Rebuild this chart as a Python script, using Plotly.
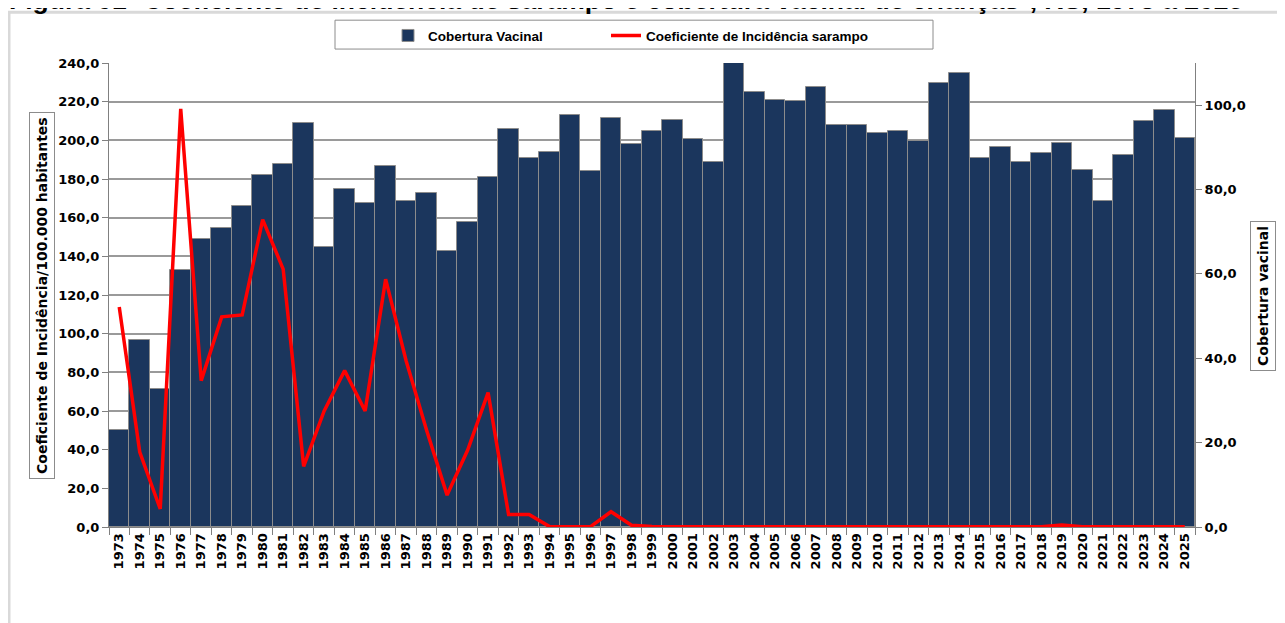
import plotly.graph_objects as go

# ==========================================
# dados
# ==========================================
anos = [str(a) for a in range(1973, 2026)]

cobertura = [22.9, 44.4, 32.7, 60.9, 68.2, 71.0, 76.0, 83.4, 86.1, 95.7,
             66.4, 80.1, 76.9, 85.6, 77.4, 79.2, 65.5, 72.4, 82.9, 94.3,
             87.5, 88.9, 97.6, 84.3, 96.9, 90.7, 93.9, 96.6, 92.1, 86.6,
             115.0, 103.1, 101.2, 101.0, 104.4, 95.3, 95.3, 93.4, 93.9, 91.6,
             105.3, 107.6, 87.5, 90.2, 86.6, 88.6, 91.1, 84.7, 77.4, 88.2,
             96.2, 98.9, 92.3]

incidencia = [113.8, 38.8, 9.3, 216.3, 75.7, 108.7, 109.7, 159.0, 133.4, 31.4,
              60.0, 80.9, 60.0, 128.2, 86.0, 50.0, 16.5, 39.7, 69.5, 6.5,
              6.5, 0.2, 0.1, 0.2, 7.9, 0.9, 0.2, 0.1, 0.1, 0.1,
              0.1, 0.1, 0.1, 0.1, 0.1, 0.1, 0.1, 0.1, 0.1, 0.1,
              0.1, 0.1, 0.1, 0.1, 0.1, 0.1, 1.0, 0.1, 0.1, 0.1,
              0.1, 0.1, 0.1]

ticks_esq = list(range(0, 241, 20))
ticks_dir = list(range(0, 101, 20))

# ==========================================
# geometria (px da página; o body do html tem margem de 8px)
# ==========================================
OFF = 8
W, H = 1285 - OFF, 623 - OFF
L, R, T, B = 109 - OFF, 1195 - OFF, 61 - OFF, 527 - OFF
pw, ph = R - L, B - T


def px(x):
    return (x - OFF - L) / pw


def py(y):
    return (B - (y - OFF)) / ph


NAVY = '#1B365D'
GRID = '#9A9A9A'
FONTE = 'DejaVu Sans'
FONTE_LEG = dict(family='Liberation Sans Narrow, Liberation Sans', size=13.5,
                 color='black', weight='bold')

fig = go.Figure()

fig.add_trace(go.Bar(
    x=anos, y=cobertura, name='Cobertura Vacinal', yaxis='y', legend='legend',
    marker=dict(color=NAVY, line=dict(color='#8C8C8C', width=1)),
))

fig.add_trace(go.Scatter(
    x=anos, y=incidencia, name='Coeficiente de Incidência sarampo', yaxis='y2',
    legend='legend2', mode='lines', line=dict(color='#FF0000', width=3.5),
))

fig.update_layout(
    width=W, height=H,
    margin=dict(l=L, r=W - R, t=T, b=H - B),
    paper_bgcolor='white', plot_bgcolor='white',
    separators=',.',
    bargap=0,
    showlegend=True,
    legend=dict(
        x=px(388), y=py(18), xanchor='left', yanchor='top',
        bgcolor='rgba(0,0,0,0)', borderwidth=0, font=FONTE_LEG,
    ),
    legend2=dict(
        x=px(606), y=py(18), xanchor='left', yanchor='top',
        bgcolor='rgba(0,0,0,0)', borderwidth=0, font=FONTE_LEG,
    ),
    xaxis=dict(
        type='category', tickson='boundaries', ticks='outside', ticklen=7,
        tickcolor='#808080', showline=True, linecolor='#808080', linewidth=1,
        tickangle=-90, showgrid=False,
        tickfont=dict(family=FONTE, size=13, color='black', weight='bold'),
    ),
    yaxis=dict(
        side='right', range=[0, 110], tickvals=ticks_dir, tickformat='.1f',
        ticks='outside', ticklen=6, tickcolor='#808080',
        showline=True, linecolor='#808080', showgrid=False, zeroline=False,
        tickfont=dict(family=FONTE, size=13, color='black', weight='bold'),
    ),
    yaxis2=dict(
        overlaying='y', side='left', range=[0, 240], tickvals=ticks_esq,
        tickformat='.1f', ticks='outside', ticklen=6, tickcolor='#808080',
        showline=True, linecolor='#808080', showgrid=True, gridcolor=GRID,
        gridwidth=1.5, zeroline=False,
        tickfont=dict(family=FONTE, size=13, color='black', weight='bold'),
    ),
)

# moldura externa e caixa da legenda
fig.add_shape(type='rect', xref='paper', yref='paper',
              x0=px(9), x1=px(1300), y0=py(640), y1=py(10),
              line=dict(color='#D9D9D9', width=3), layer='below')
fig.add_shape(type='rect', xref='paper', yref='paper',
              x0=px(335), x1=px(933), y0=py(47), y1=py(18),
              line=dict(color='#8C8C8C', width=1), layer='below')

# títulos dos eixos em caixas
fig.add_annotation(
    xref='paper', yref='paper', x=px(42), y=py(295), xanchor='center', yanchor='middle',
    text='<b>Coeficiente de Incidência/100.000 habitantes</b>', textangle=-90,
    showarrow=False, font=dict(family=FONTE, size=14, color='black'),
    bordercolor='#8C8C8C', borderwidth=1, borderpad=4, bgcolor='white',
)
fig.add_annotation(
    xref='paper', yref='paper', x=px(1263), y=py(295), xanchor='center', yanchor='middle',
    text='<b>Cobertura vacinal</b>', textangle=-90,
    showarrow=False, font=dict(family=FONTE, size=14, color='black'),
    bordercolor='#8C8C8C', borderwidth=1, borderpad=4, bgcolor='white',
)

# título da figura (cortado no topo, como no original)
fig.add_annotation(
    xref='paper', yref='paper', x=px(7), y=py(15), xanchor='left', yanchor='bottom',
    text='<b>Figura 01- Coeficiente de incidência de sarampo e cobertura vacinal de crianças*, RS, 1973 a 2025</b>',
    showarrow=False, font=dict(family='Liberation Sans', size=26.5, color='black'),
)

fig.write_html('out.html')
